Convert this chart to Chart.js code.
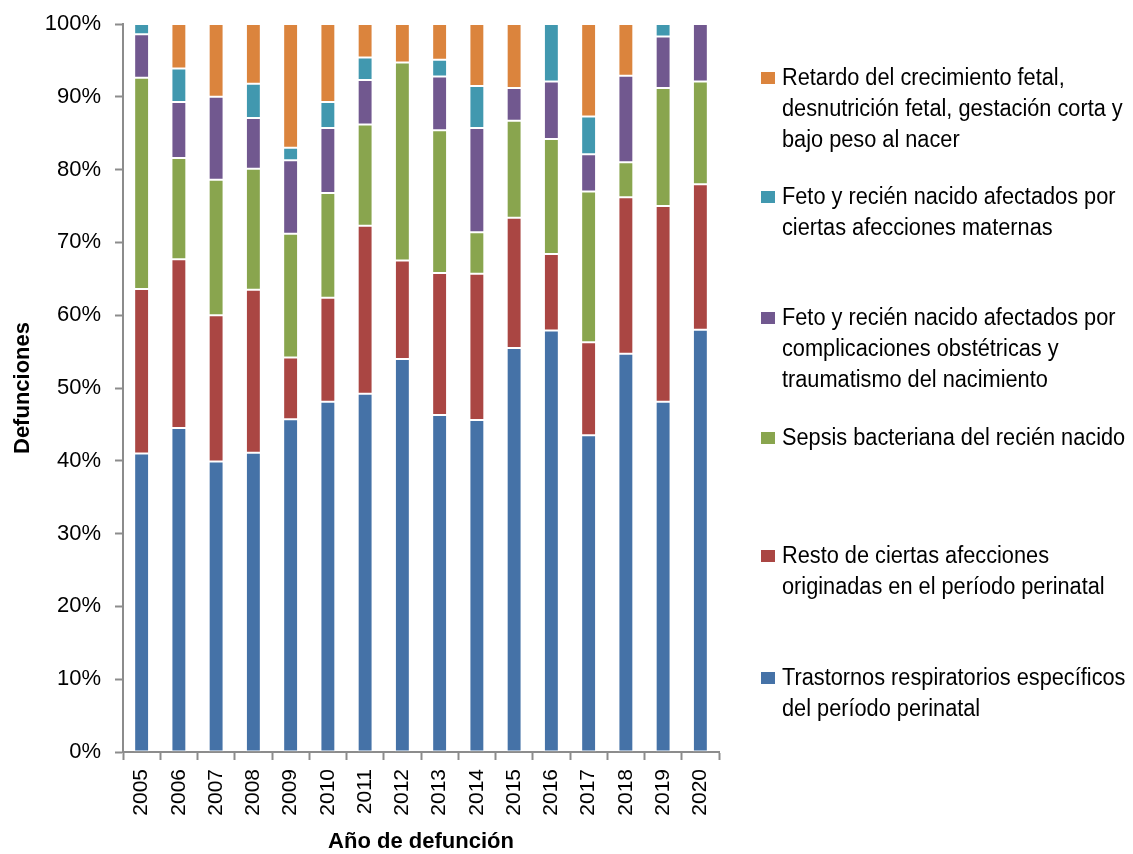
<!DOCTYPE html>
<html>
<head>
<meta charset="utf-8">
<script src="https://cdn.jsdelivr.net/npm/chart.js@4.4.1/dist/chart.umd.min.js"></script>
<style>
body{margin:0;background:#fff;}
#wrap{position:relative;width:1133px;height:854px;font-family:"Liberation Sans",Arial,sans-serif;}
#legend .item{position:absolute;left:761px;font-size:23px;line-height:31px;color:#000;}
#legend .sw{position:absolute;left:0;top:10px;width:14px;height:12px;}
#legend .txt{position:absolute;left:21px;top:0;white-space:nowrap;transform:scaleX(0.945);transform-origin:0 0;}
</style>
</head>
<body>
<div id="wrap">
<canvas id="chart" width="1133" height="854"></canvas>
<div id="legend"></div>
</div>
<script>
// years
const years = ['2005','2006','2007','2008','2009','2010','2011','2012','2013','2014','2015','2016','2017','2018','2019','2020'];

// share of deaths per cause (%)
const respiratorios = [41.0,44.5,39.9,41.1,45.7,48.1,49.2,54.0,46.3,45.6,55.5,57.9,43.5,54.7,48.1,58.0];
const restoPerinatal = [22.6,23.2,20.1,22.4,8.5,14.3,23.1,13.5,19.5,20.1,17.9,10.5,12.8,21.5,26.9,20.0];
const sepsis = [29.0,13.9,18.6,16.6,17.0,14.4,13.9,27.2,19.6,5.7,13.3,15.8,20.7,4.8,16.2,14.1];
const complicaciones = [6.0,7.7,11.4,7.0,10.1,8.9,6.1,0,7.4,14.3,4.5,7.9,5.1,11.9,7.1,7.9];
const maternas = [1.4,4.6,0,4.7,1.7,3.6,3.1,0,2.3,5.8,0,7.9,5.2,0,1.7,0];
const retardo = [0,6.1,10.0,8.2,17.0,10.7,4.6,5.3,4.9,8.5,8.8,0,12.7,7.1,0,0];

const yTicks = [0,10,20,30,40,50,60,70,80,90,100];

const labels = [
    ['Trastornos respiratorios específicos','del período perinatal'],
    ['Resto de ciertas afecciones','originadas en el período perinatal'],
    ['Sepsis bacteriana del recién nacido'],
    ['Feto y recién nacido afectados por','complicaciones obstétricas y','traumatismo del nacimiento'],
    ['Feto y recién nacido afectados por','ciertas afecciones maternas'],
    ['Retardo del crecimiento fetal,','desnutrición fetal, gestación corta y','bajo peso al nacer']
];
const series = [respiratorios, restoPerinatal, sepsis, complicaciones, maternas, retardo];
const colors = ['#4572A7','#AA4643','#89A54E','#71588F','#4198AF','#DB843D'];

const FONT = '"Liberation Sans",Arial,sans-serif';
const AXIS = '#8c8c8c';

const datasets = series.map((s,i) => ({
    label: labels[i].join(' '),
    data: s,
    backgroundColor: colors[i],
    borderColor: 'rgba(255,255,255,0.35)',
    borderWidth: 1,
    borderSkipped: false,
    barPercentage: 0.4,
    categoryPercentage: 1
}));

new Chart(document.getElementById('chart'), {
    type: 'bar',
    data: { labels: years, datasets },
    options: {
        responsive: false,
        animation: false,
        layout: { padding: { top: 24, right: 414, left: 0, bottom: 0 } },
        plugins: { legend: { display: false }, tooltip: { enabled: false } },
        scales: {
            x: {
                stacked: true,
                grid: { display: true, drawOnChartArea: false, drawTicks: true, tickLength: 8, tickColor: AXIS, tickWidth: 2 },
                border: { color: AXIS, width: 2 },
                ticks: { color: '#000', font: { family: FONT, size: 21 }, minRotation: 90, maxRotation: 90, padding: 9, autoSkip: false },
                title: { display: true, text: 'Año de defunción', color: '#000', font: { family: FONT, size: 22, weight: 'bold', lineHeight: 1 }, padding: { top: 0, bottom: 1 } },
                afterFit: s => { s.height = 102; s.paddingLeft = 0; s.paddingRight = 0; }
            },
            y: {
                stacked: true,
                min: 0, max: 100,
                afterBuildTicks: s => { s.ticks = yTicks.map(v => ({ value: v })); },
                grid: { display: true, drawOnChartArea: false, drawTicks: true, tickLength: 8, tickColor: AXIS, tickWidth: 2 },
                border: { color: AXIS, width: 2 },
                ticks: { color: '#000', font: { family: FONT, size: 22 }, padding: 14, callback: v => v + '%' },
                title: { display: true, text: 'Defunciones', color: '#000', font: { family: FONT, size: 22, weight: 'bold', lineHeight: 1 }, padding: { top: 12, bottom: 0 } },
                afterFit: s => { s.width = 123; s.paddingTop = 0; s.paddingBottom = 0; }
            }
        }
    }
});

// legend, top entry first (reverse of stacking)
const legendTop = [662, 540, 422, 302, 181, 62];
let html = '';
for (let i = series.length - 1; i >= 0; i--) {
    html += `<div class="item" style="top:${legendTop[i]}px">
        <div class="sw" style="background:${colors[i]}"></div>
        <div class="txt">${labels[i].join('<br>')}</div>
    </div>`;
}
document.getElementById('legend').innerHTML = html;
</script>
</body>
</html>
